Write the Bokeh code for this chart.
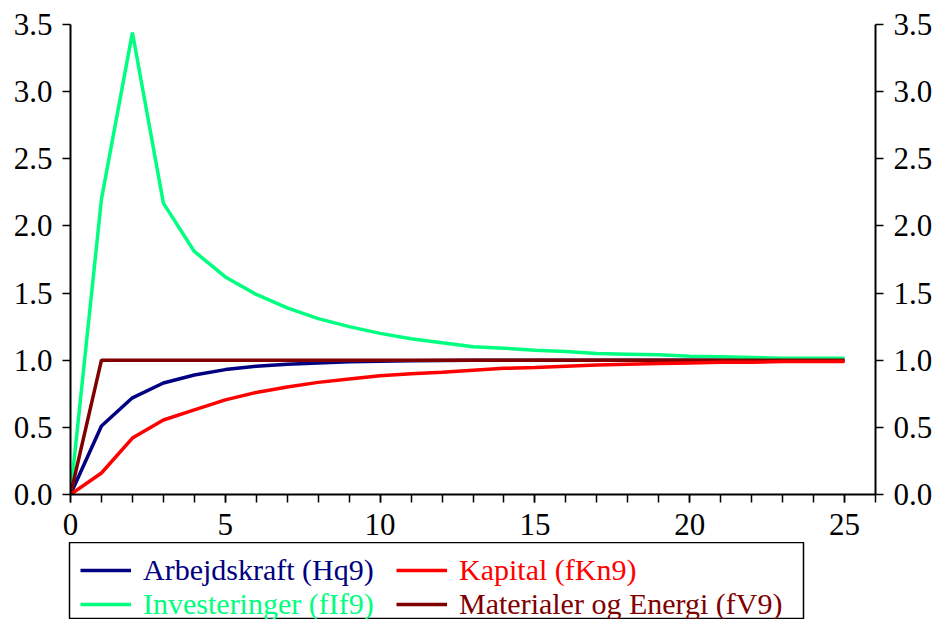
from bokeh.plotting import figure
from bokeh.models import Range1d, LinearAxis, FixedTicker, Legend, LegendItem
from bokeh.layouts import column
from bokeh.embed import file_html
from bokeh.resources import INLINE

# ---- data ----
periods = [0, 1, 2, 3, 4, 5, 6, 7, 8, 9, 10, 11, 12, 13, 14, 15, 16, 17, 18, 19, 20, 21, 22, 23, 24, 25]
arbejdskraft = [0.0, 0.51, 0.72, 0.83, 0.89, 0.93, 0.955, 0.97, 0.98, 0.988, 0.993, 0.996, 0.998, 0.999,
                1.0, 1.0, 1.0, 1.0, 1.0, 1.0, 1.0, 1.0, 1.0, 1.0, 1.0, 1.0]
kapital = [0.0, 0.16, 0.42, 0.555, 0.63, 0.705, 0.76, 0.80, 0.835, 0.86, 0.885, 0.90, 0.91, 0.925,
           0.94, 0.945, 0.955, 0.965, 0.97, 0.975, 0.98, 0.985, 0.985, 0.99, 0.99, 0.99]
investeringer = [0.0, 2.2, 3.44, 2.17, 1.81, 1.62, 1.49, 1.39, 1.31, 1.25, 1.20, 1.16, 1.13, 1.10,
                 1.09, 1.075, 1.065, 1.05, 1.045, 1.04, 1.03, 1.025, 1.02, 1.015, 1.015, 1.015]
materialer = [0.0, 1.0, 1.0, 1.0, 1.0, 1.0, 1.0, 1.0, 1.0, 1.0, 1.0, 1.0, 1.0, 1.0,
              1.0, 1.0, 1.0, 1.0, 1.0, 1.0, 1.0, 1.0, 1.0, 1.0, 1.0, 1.0]

labels = ["Arbejdskraft (Hq9)", "Kapital (fKn9)", "Investeringer (fIf9)", "Materialer og Energi (fV9)"]
colors = ["#000080", "#ff0000", "#00ff80", "#800000"]
series = [arbejdskraft, kapital, investeringer, materialer]

x_major_ticks = [0, 5, 10, 15, 20, 25]
x_minor_ticks = list(range(0, 27))
y_ticks = [0.0, 0.5, 1.0, 1.5, 2.0, 2.5, 3.0, 3.5]
y_tick_labels = ["0.0", "0.5", "1.0", "1.5", "2.0", "2.5", "3.0", "3.5"]

FONT = "Liberation Serif"
LW = 3.5

p = figure(width=936, height=542, output_backend="svg", toolbar_location=None,
           x_range=Range1d(0, 26), y_range=Range1d(0, 3.5),
           min_border_left=70, min_border_right=61, min_border_top=24, min_border_bottom=48)
p.outline_line_color = None
p.xgrid.visible = False
p.ygrid.visible = False
try:
    p.frame_align = False
except Exception:
    pass

# series (draw order)
r_blue = p.line(periods, arbejdskraft, line_color=colors[0], line_width=LW)
r_green = p.line(periods, investeringer, line_color=colors[2], line_width=LW)
r_brown = p.line(periods, materialer, line_color=colors[3], line_width=LW)
r_red = p.line(periods, kapital, line_color=colors[1], line_width=LW)


def style_axis(ax):
    ax.axis_line_width = 2
    ax.axis_line_color = "black"
    ax.major_tick_line_width = 1.5
    ax.minor_tick_line_width = 1.5
    ax.major_tick_in = 0
    ax.major_tick_out = 8
    ax.minor_tick_in = 0
    ax.minor_tick_out = 8
    ax.major_label_text_font = FONT
    ax.major_label_text_font_size = "31px"
    ax.major_label_text_color = "black"
    ax.major_label_standoff = 10


xa = p.xaxis[0]
xa.ticker = FixedTicker(ticks=x_major_ticks, minor_ticks=x_minor_ticks)
style_axis(xa)
xa.major_label_standoff = 11

ya = p.yaxis[0]
ya.ticker = FixedTicker(ticks=y_ticks, minor_ticks=[])
ya.major_label_overrides = {t: s for t, s in zip(y_ticks, y_tick_labels)}
style_axis(ya)

ya2 = LinearAxis(ticker=FixedTicker(ticks=y_ticks, minor_ticks=[]))
ya2.major_label_overrides = {t: s for t, s in zip(y_ticks, y_tick_labels)}
style_axis(ya2)
p.add_layout(ya2, "right")

# ---- legend panel (boxed); its own lines sit outside its view ----
lg = figure(width=936, height=77, output_backend="svg", toolbar_location=None,
            x_axis_location=None, y_axis_location=None,
            x_range=Range1d(-3, -2), y_range=Range1d(0, 1),
            min_border_left=69, min_border_right=133, min_border_top=0, min_border_bottom=0)
lg.xgrid.visible = False
lg.ygrid.visible = False
lg.outline_line_color = "black"
lg.outline_line_width = 1.5
try:
    lg.frame_align = False
except Exception:
    pass

legend_renderers = [lg.line(periods, s, line_color=c, line_width=LW) for s, c in zip(series, colors)]
positions = [(11, 32), (327, 32), (11, -2), (327, -2)]
for lab, col, rr, loc in zip(labels, colors, legend_renderers, positions):
    leg = Legend(items=[LegendItem(label=lab, renderers=[rr])], location=loc,
                 orientation="vertical", padding=0, margin=0, spacing=0,
                 border_line_color=None, background_fill_alpha=0,
                 label_text_font=FONT, label_text_font_size="30px",
                 label_text_color=col, glyph_width=51, glyph_height=34,
                 label_height=34, label_standoff=12)
    lg.add_layout(leg, "center")

layout = column(p, lg, spacing=0)
open("out.html", "w").write(file_html(layout, INLINE))
